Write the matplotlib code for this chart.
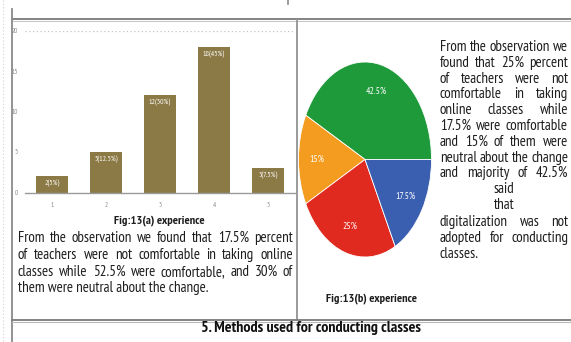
import matplotlib
matplotlib.use('Agg')
import matplotlib.pyplot as plt
from matplotlib.lines import Line2D
from matplotlib import font_manager as fm

# ---------------- data ----------------
bar_categories = ['1', '2', '3', '4', '5']
bar_values = [2, 5, 12, 18, 3]
bar_labels = ['2(5%)', '5(12.5%)', '12(30%)', '18(45%)', '3(7.5%)']
y_ticks = [0, 5, 10, 15, 20]

pie_categories = ['Not adopted', 'Neutral', 'Not comfortable', 'Comfortable']
pie_values = [42.5, 15, 25, 17.5]
pie_colors = ['#1f9a3b', '#f49c1f', '#e0291f', '#3a5fb0']

caption_a = 'Fig:13(a) experience'
caption_b = 'Fig:13(b) experience'
heading = '5. Methods used for conducting classes'
para_left = ['From the observation we found that 17.5% percent',
             'of teachers were not comfortable in taking online',
             'classes while 52.5% were comfortable, and 30% of',
             'them were neutral about the change.']
para_right = ['From the observation we', 'found that 25% percent',
              'of teachers were not', 'comfortable in taking',
              'online classes while', '17.5% were comfortable',
              'and 15% of them were', 'neutral about the change',
              'and majority of 42.5%', 'said', 'that',
              'digitalization was not', 'adopted for conducting', 'classes.']


def has_font(name):
    try:
        fm.findfont(fm.FontProperties(family=name), fallback_to_default=False)
        return True
    except Exception:
        return False


NARROW = 'Liberation Sans'
for cand in ['Liberation Sans Narrow', 'PT Sans Narrow', 'Pragati Narrow']:
    if has_font(cand):
        NARROW = cand
        break
FAM = [NARROW, 'DejaVu Sans']

W, H = 571, 342
fig = plt.figure(figsize=(W / 100, H / 100), dpi=100)
fig.patch.set_facecolor('white')
renderer = fig.canvas.get_renderer()


def fx(x):
    return x / W


def fy(y):
    return 1 - y / H


def hline(x0, x1, y, color, lw, ls='-'):
    fig.add_artist(Line2D([fx(x0), fx(x1)], [fy(y), fy(y)], transform=fig.transFigure,
                          color=color, lw=lw, ls=ls))


def vline(x, y0, y1, color, lw, ls='-'):
    fig.add_artist(Line2D([fx(x), fx(x)], [fy(y0), fy(y1)], transform=fig.transFigure,
                          color=color, lw=lw, ls=ls))


def width_of(s, size, weight='normal'):
    t = fig.text(0, 0, s, fontsize=size, family=FAM, weight=weight)
    w = t.get_window_extent(renderer).width
    t.remove()
    return w


def fit_size(s, target, weight='normal'):
    return 10 * target / width_of(s, 10, weight)


def put(x, y, s, size, weight='normal', ha='left', color='#1e1e1e'):
    fig.text(fx(x), fy(y), s, fontsize=size, family=FAM, weight=weight,
             ha=ha, va='baseline', color=color)


def paragraph(lines, x0, x1, ys, size, modes):
    for s, y, m in zip(lines, ys, modes):
        words = s.split()
        if m == 'j' and len(words) > 1:
            ws = [width_of(w, size) for w in words]
            gap = (x1 - x0 - sum(ws)) / (len(words) - 1)
            x = x0
            for w, ww in zip(words, ws):
                put(x, y, w, size)
                x += ww + gap
        elif m == 'c':
            put((x0 + x1) / 2, y, s, size, ha='center')
        else:
            put(x0, y, s, size)


# ---------------- table lines ----------------
vline(3, 0, 342, '#d0d0d0', 0.8, ls=(0, (1, 2)))
vline(287.5, 0, 4, '#8a8a8a', 1.2)
hline(12, 571, 19, '#7a7a7a', 1.3)
hline(12, 571, 20.8, '#c4c4c4', 0.7)
vline(12, 9, 342, '#8a8a8a', 1.3)
vline(297, 20, 320, '#9a9a9a', 1.4)
hline(12, 571, 319.5, '#7a7a7a', 1.3)
hline(12, 571, 321.5, '#b8b8b8', 0.8)

# ---------------- bar chart ----------------
ax = fig.add_axes([fx(25), fy(192.5), (295 - 25) / W, (192.5 - 30.5) / H])
x = list(range(1, len(bar_values) + 1))
bars = ax.bar(x, bar_values, width=0.61, color='#8c7a46', zorder=2)
ax.set_xlim(0.5, len(bar_values) + 0.5)
ax.set_ylim(0, 20)
ax.set_xticks(x, bar_categories)
ax.set_yticks(y_ticks, [str(v) for v in y_ticks])
ax.axhline(y_ticks[-1], color='#c4c4c4', lw=0.9, ls=(0, (1, 2)), zorder=1)
for side in ['top', 'right', 'left']:
    ax.spines[side].set_visible(False)
ax.spines['bottom'].set_color('#9a9a9a')
ax.spines['bottom'].set_linewidth(1.0)
ax.spines['bottom'].set_zorder(3)
ax.tick_params(axis='x', length=0, labelsize=5, labelcolor='#8a8a8a', pad=7)
ax.tick_params(axis='y', length=0, labelsize=5, labelcolor='#8a8a8a', pad=5)
for lab in ax.get_xticklabels() + ax.get_yticklabels():
    lab.set_family(FAM)
ax.patch.set_alpha(0)
ax.bar_label(bars, labels=bar_labels, padding=-8, color='white', fontsize=5.5, family=FAM)

# ---------------- pie chart ----------------
axp = fig.add_axes([fx(298.5), fy(257), 133 / W, 195 / H])
axp.pie(pie_values, colors=pie_colors, startangle=0, counterclock=True,
        autopct=lambda p: ('%.1f' % p).rstrip('0').rstrip('.') + '%',
        pctdistance=0.72, radius=1,
        wedgeprops=dict(edgecolor='white', linewidth=0.6),
        textprops=dict(color='white', fontsize=7, family=FAM))
axp.set_aspect('auto')
axp.set_xlim(-1, 1)
axp.set_ylim(-1, 1)

# ---------------- texts ----------------
cs = fit_size(caption_a, 92, 'bold')
put(159, 223, caption_a, cs, weight='bold', ha='center')
put(372, 301.5, caption_b, cs, weight='bold', ha='center')
hs = fit_size(heading, 222, 'bold')
put(311, 332, heading, hs, weight='bold', ha='center', color='#111111')

ps = fit_size(para_left[-1], 192)
paragraph(para_left, 18, 293, [242, 259, 276, 292], ps, ['j', 'j', 'j', 'l'])

ys_r = [50.7, 66.7, 82.7, 98, 114, 130, 145.7, 161.7, 177, 193, 209, 225.7, 242, 258]
modes_r = ['j'] * 9 + ['c', 'c'] + ['j', 'j', 'l']
paragraph(para_right, 440, 568, ys_r, ps, modes_r)

fig.savefig('out.png', dpi=100, facecolor='white')
